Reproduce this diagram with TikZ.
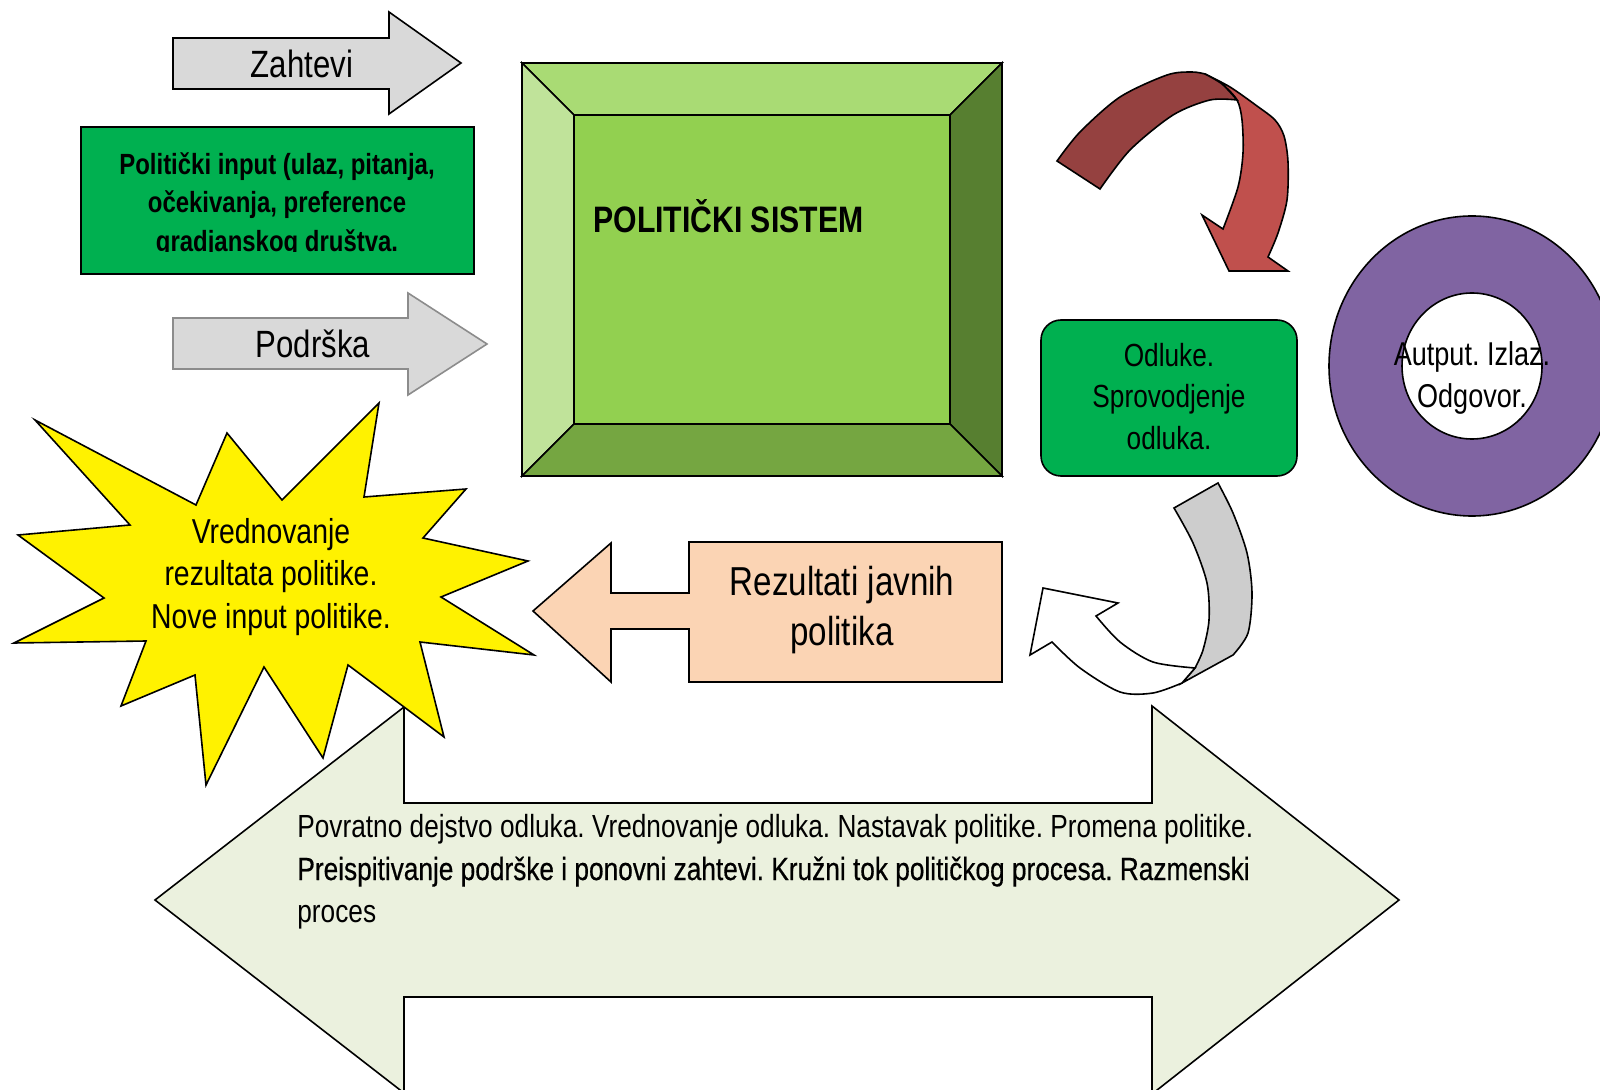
\documentclass[tikz,border=0pt]{standalone}
\usepackage{fontspec}
\setmainfont{Liberation Sans}[FakeStretch=0.82]
\newfontfamily\heavier{Liberation Sans}[FakeStretch=0.82,FakeBold=0.5]
\definecolor{arrgray}{HTML}{D9D9D9}
\definecolor{arrgrayline}{HTML}{8C8C8C}
\definecolor{boxgreen}{HTML}{00B050}
\definecolor{bevmid}{HTML}{92D050}
\definecolor{bevtop}{HTML}{A9DB74}
\definecolor{bevleft}{HTML}{C0E39A}
\definecolor{bevright}{HTML}{577F30}
\definecolor{bevbot}{HTML}{75A641}
\definecolor{reddark}{HTML}{954140}
\definecolor{redlight}{HTML}{C0504D}
\definecolor{donut}{HTML}{8064A2}
\definecolor{peach}{HTML}{FBD4B4}
\definecolor{palegreen}{HTML}{EBF1DE}
\definecolor{curvgray}{HTML}{CDCDCD}
\frenchspacing
\begin{document}
\begin{tikzpicture}[x=0.5pt,y=-0.5pt,line join=miter]
\tikzset{
  outl/.style={draw=black,line width=0.8pt},
  txt/.style={inner sep=0pt,anchor=base},
  arrlbl/.style={txt,font=\fontsize{19}{22}\selectfont},
  inlbl/.style={txt,font=\bfseries\fontsize{14.6}{17}\selectfont},
  syslbl/.style={txt,anchor=base west,font=\bfseries\fontsize{18.4}{22}\selectfont},
  declbl/.style={txt,font=\fontsize{16}{19}\selectfont},
  outlbl/.style={txt,font=\fontsize{16.5}{19}\selectfont},
  reslbl/.style={txt,font=\fontsize{20.2}{24}\selectfont},
  starlbl/.style={txt,font=\fontsize{17.3}{20}\selectfont},
  botlbl/.style={txt,anchor=base west,font=\fontsize{16}{19}\selectfont},
}
\useasboundingbox (0,0) rectangle (1600,1090);
\clip (0,0) rectangle (1600,1090);

% bottom double arrow
\filldraw[outl,fill=palegreen] (155,900) -- (404,707) -- (404,803) -- (1152,803) -- (1152,706)
  -- (1399,900) -- (1152,1094) -- (1152,997) -- (404,997) -- (404,1093) -- cycle;
\node[botlbl] (b1) at (297,837) {Povratno dejstvo odluka. Vrednovanje odluka. Nastavak politike. Promena politike.};
\node[botlbl,font=\heavier\fontsize{16}{19}\selectfont] (b2) at (297,880) {Preispitivanje podrške i ponovni zahtevi. Kružni tok političkog procesa. Razmenski};
\node[botlbl] (b3) at (297,922) {proces};

% starburst
\filldraw[outl,fill=yellow] (35,420) -- (196,505) -- (227,433) -- (282,500) -- (379,403) -- (364,497)
  -- (466,489) -- (423,538) -- (528,561) -- (441,597) -- (534,655) -- (420,642) -- (444,737)
  -- (348,665) -- (323,758) -- (264,667) -- (206,785) -- (195,675) -- (121,706) -- (146,641)
  -- (14,643) -- (104,598) -- (18,535) -- (130,525) -- cycle;
\node[starlbl] (s1) at (271,544) {Vrednovanje};
\node[starlbl] (s2) at (271,585) {rezultata politike.};
\node[starlbl] (s3) at (271,628) {Nove input politike.};

% Zahtevi / Podrska arrows
\filldraw[outl,fill=arrgray] (173,38) -- (389,38) -- (389,12) -- (461,63) -- (389,114) -- (389,89) -- (173,89) -- cycle;
\node[arrlbl] (zah) at (302,78) {Zahtevi};
\filldraw[draw=arrgrayline,line width=0.8pt,fill=arrgray] (173,318) -- (408,318) -- (408,293) -- (487,344) -- (408,395) -- (408,369) -- (173,369) -- cycle;
\node[arrlbl] (pod) at (313,358) {Podrška};

% input box
\filldraw[outl,fill=boxgreen] (81,127) rectangle (474,274);
\node[inlbl] (in1) at (277,175) {Politički input (ulaz, pitanja,};
\node[inlbl] (in2) at (277,213) {očekivanja, preference};
\begin{scope}
  \clip (81,127) rectangle (474,252);
  \node[inlbl] (in3) at (277,252) {gradjanskog društva.};
\end{scope}

% political system bevel box
\filldraw[outl,fill=bevtop] (522,63) -- (1002,63) -- (950,115) -- (574,115) -- cycle;
\filldraw[outl,fill=bevleft] (522,63) -- (574,115) -- (574,424) -- (522,476) -- cycle;
\filldraw[outl,fill=bevright] (1002,63) -- (1002,476) -- (950,424) -- (950,115) -- cycle;
\filldraw[outl,fill=bevbot] (522,476) -- (574,424) -- (950,424) -- (1002,476) -- cycle;
\filldraw[outl,fill=bevmid] (574,115) rectangle (950,424);
\node[syslbl] (sys) at (593,233) {POLITIČKI SISTEM};

% red curved arrow
\filldraw[outl,fill=redlight] (1205,74) -- plot[smooth] coordinates {(1205,74) (1230,87) (1257,106) (1275,120) (1284,136) (1288,162) (1287,200) (1278,233) (1268,257)}
  -- (1288,271) -- (1229,271) -- (1202,215) -- (1223,229)
  -- plot[smooth] coordinates {(1223,229) (1238,187) (1243,153) (1242,120) (1237,100) (1222,84) (1205,74)} -- cycle;
\filldraw[outl,fill=reddark] (1057,161) -- plot[smooth] coordinates {(1057,161) (1080,132) (1120,97) (1167,75) (1192,72) (1205,74)}
  -- plot[smooth] coordinates {(1205,74) (1222,84) (1237,100)}
  -- plot[smooth] coordinates {(1237,100) (1210,100) (1173,115) (1130,150) (1100,189)} -- cycle;

% decisions box
\filldraw[outl,fill=boxgreen,rounded corners=10pt] (1041,320) rectangle (1297,476);
\node[declbl] (d1) at (1169,367) {Odluke.};
\node[declbl] (d2) at (1169,408) {Sprovodjenje};
\node[declbl] (d3) at (1169,450) {odluka.};

% donut
\fill[donut,even odd rule] (1472,366) ellipse [x radius=71.5pt,y radius=75pt]
  (1472,366) ellipse [x radius=35pt,y radius=36.5pt];
\draw[outl] (1472,366) ellipse [x radius=71.5pt,y radius=75pt];
\draw[outl] (1472,366) ellipse [x radius=35pt,y radius=36.5pt];
\node[outlbl] (o1) at (1472,366) {Autput. Izlaz.};
\node[outlbl] (o2) at (1472,408) {Odgovor.};

% gray / white curved arrow
\filldraw[outl,fill=curvgray] (1174,508) -- (1218,483)
  -- plot[smooth] coordinates {(1218,483) (1233,513) (1247,553) (1252,593) (1248,633) (1233,655)}
  -- (1182,683) -- (1195,668)
  -- plot[smooth] coordinates {(1195,668) (1203,650) (1209,620) (1207,583) (1193,543) (1174,508)} -- cycle;
\filldraw[outl,fill=white] (1182,683)
  -- plot[smooth] coordinates {(1182,683) (1153,693) (1120,692) (1080,668) (1052,642)}
  -- (1030,655) -- (1043,588) -- (1118,603) -- (1096,616)
  -- plot[smooth] coordinates {(1096,616) (1120,642) (1153,662) (1195,668)} -- cycle;

% results arrow
\filldraw[outl,fill=peach] (533,611) -- (611,543) -- (611,593) -- (689,593) -- (689,542) -- (1002,542)
  -- (1002,682) -- (689,682) -- (689,629) -- (611,629) -- (611,682) -- cycle;
\node[reslbl] (r1) at (842,596) {Rezultati javnih};
\node[reslbl] (r2) at (842,645) {politika};
\end{tikzpicture}
\end{document}
